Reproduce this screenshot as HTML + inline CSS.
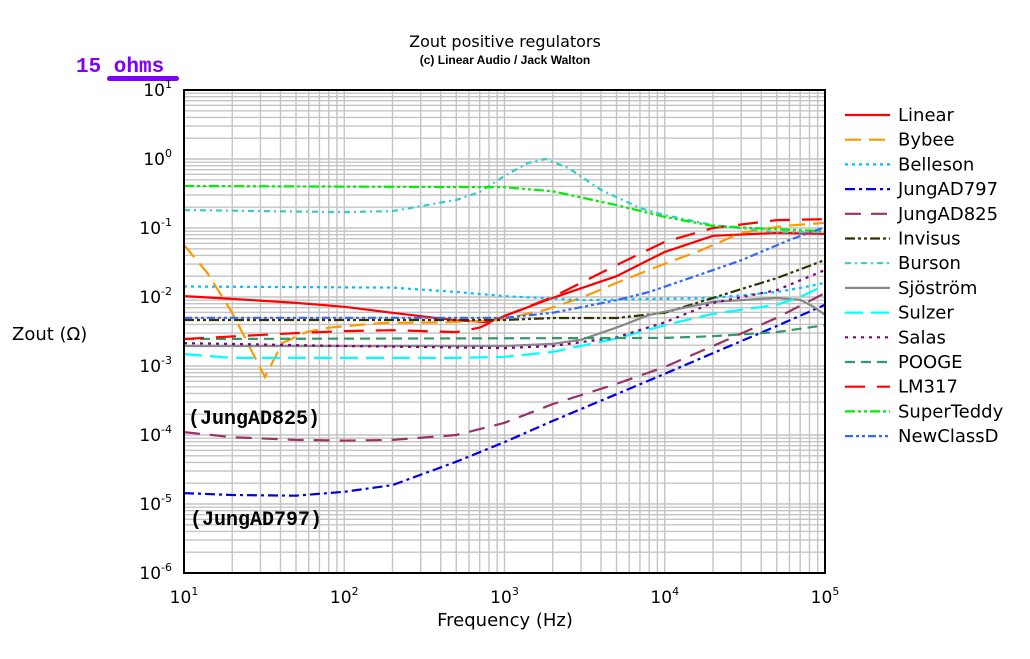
<!DOCTYPE html>
<html><head><meta charset="utf-8">
<style>
html,body{margin:0;padding:0;background:#fff;}
svg{display:block;font-family:"DejaVu Sans","Liberation Sans",sans-serif;}
</style></head>
<body>
<svg id="chart" width="1030" height="659" viewBox="0 0 1030 659" xmlns="http://www.w3.org/2000/svg">
<text x="505" y="47" font-size="16" text-anchor="middle">Zout positive regulators</text>
<text x="505" y="64" font-size="12" font-weight="bold" text-anchor="middle" font-family="Liberation Sans,sans-serif">(c) Linear Audio / Jack Walton</text>
<text x="76" y="72" font-size="21" font-weight="bold" fill="#8000ff" font-family="Liberation Mono,monospace">15 ohms</text>
<rect x="107" y="76" width="72" height="5" rx="2.5" fill="#8000ff"/>
<text x="12" y="340" font-size="18">Zout (Ω)</text>
<text x="505" y="626" font-size="18" text-anchor="middle">Frequency (Hz)</text>
<g id="grid"></g>
<g id="series"></g>
<rect x="184" y="90" width="641" height="483" fill="none" stroke="#000" stroke-width="2"/>
<g id="ticks"></g>
<text x="188" y="424" font-size="20" font-weight="bold" font-family="Liberation Mono,monospace">(JungAD825)</text>
<text x="190" y="525" font-size="20" font-weight="bold" font-family="Liberation Mono,monospace">(JungAD797)</text>
<g id="legend"></g>
</svg>
<script>
const xTickExps = [1,2,3,4,5];
const yTickExps = [1,0,-1,-2,-3,-4,-5,-6];
const seriesNames = ["Linear","Bybee","Belleson","JungAD797","JungAD825","Invisus","Burson","Sjöström","Sulzer","Salas","POOGE","LM317","SuperTeddy","NewClassD"];
const fLinear = [10,20,50,100,200,500,800,1000,2000,5000,1e4,2e4,5e4,1e5];
const zLinear = [0.0103,0.0094,0.0082,0.0072,0.0059,0.0046,0.0043,0.0053,0.0097,0.020,0.045,0.077,0.085,0.082];
const fBybee = [10,14,20,32,41,58,81,170,430,900,1800,3100,5000,9500,17000,30000,55000,100000];
const zBybee = [0.0567,0.0223,0.0059,0.00069,0.00215,0.0031,0.0036,0.0042,0.0043,0.0046,0.0065,0.01,0.016,0.029,0.048,0.085,0.107,0.119];
const fBelleson = [10,200,500,1000,3000,2e4,5e4,7e4,1e5];
const zBelleson = [0.0142,0.0137,0.0118,0.0103,0.009,0.0097,0.0118,0.0135,0.016];
const fJung797 = [10,20,50,100,200,500,1000,2000,5000,1e4,2e4,5e4,1e5];
const zJung797 = [1.44e-5,1.35e-5,1.32e-5,1.5e-5,1.88e-5,4.1e-5,7.9e-5,1.6e-4,3.9e-4,7.7e-4,1.54e-3,3.8e-3,7.7e-3];
const fJung825 = [10,20,50,100,200,500,1000,2000,5000,1e4,2e4,5e4,1e5];
const zJung825 = [1.1e-4,9.3e-5,8.5e-5,8.3e-5,8.5e-5,1e-4,1.5e-4,2.8e-4,5.5e-4,9.7e-4,1.95e-3,5e-3,1.14e-2];
const fInvisus = [10,1000,2000,5000,1e4,2e4,5e4,1e5];
const zInvisus = [0.00464,0.00464,0.00497,0.00497,0.0059,0.0097,0.0188,0.0344];
const fBurson = [10,100,200,500,700,1000,1400,1800,2500,4000,7000,1e4,2e4,5e4,1e5];
const zBurson = [0.182,0.17,0.176,0.255,0.333,0.567,0.875,1.0,0.74,0.356,0.195,0.154,0.11,0.087,0.087];
const fSjostrom = [10,1000,2000,3000,5000,8000,2e4,5e4,7e4,85000,1e5];
const zSjostrom = [1.95e-3,1.95e-3,2.1e-3,2.4e-3,3.6e-3,5.5e-3,8.5e-3,9.7e-3,9.1e-3,7.2e-3,5.5e-3];
const fSulzer = [10,20,100,500,1000,2000,5000,1e4,2e4,5e4,7e4,1e5];
const zSulzer = [1.49e-3,1.31e-3,1.31e-3,1.31e-3,1.36e-3,1.6e-3,2.5e-3,3.9e-3,5.7e-3,7.7e-3,1e-2,1.49e-2];
const fSalas = [10,100,1000,2000,5000,1e4,2e4,5e4,1e5];
const zSalas = [2.15e-3,1.95e-3,1.82e-3,1.95e-3,2.6e-3,4.3e-3,8.2e-3,1.26e-2,2.46e-2];
const fPooge = [10,1e4,2e4,5e4,1e5];
const zPooge = [2.46e-3,2.55e-3,2.7e-3,3.1e-3,3.9e-3];
const fLM317 = [10,50,100,200,500,700,1000,2000,5000,1e4,2e4,5e4,1e5];
const zLM317 = [0.00246,0.003,0.0032,0.0033,0.0031,0.0036,0.0053,0.01,0.029,0.063,0.1,0.13,0.134];
const fSuperTeddy = [10,1000,2000,5000,1e4,2e4,5e4,1e5];
const zSuperTeddy = [0.406,0.39,0.34,0.215,0.145,0.107,0.096,0.09];
const fNewClassD = [10,1000,2000,5000,8000,15000,30000,60000,1e5];
const zNewClassD = [0.005,0.005,0.0059,0.009,0.0118,0.0195,0.034,0.067,0.103];

const NS="http://www.w3.org/2000/svg";
const X0=184,X1=825,Y0=90,Y1=573;
function xs(f){return X0+(Math.log10(f)-1)/4*(X1-X0);}
function ys(v){return Y0+(1-Math.log10(v))/7*(Y1-Y0);}
function mk(tag,attrs,parent){const e=document.createElementNS(NS,tag);for(const k in attrs)e.setAttribute(k,attrs[k]);parent.appendChild(e);return e;}

const grid=document.getElementById('grid');
for(let d=1;d<5;d++)for(let m=1;m<10;m++){const x=xs(m*Math.pow(10,d));
  const l=mk('line',{x1:x,x2:x,y1:Y0,y2:Y1,stroke:'#c4c4c4','stroke-width':1.4},grid);
  
  }
for(let d=-6;d<1;d++)for(let m=1;m<10;m++){const y=ys(m*Math.pow(10,d));
  const l=mk('line',{x1:X0,x2:X1,y1:y,y2:y,stroke:'#c4c4c4','stroke-width':1.4},grid);
  
  }

const ticks=document.getElementById('ticks');
xTickExps.forEach(e=>{const t=mk('text',{x:xs(Math.pow(10,e)),y:603,'font-size':17,'text-anchor':'middle'},ticks);
  
  
  t.textContent='10';const s=mk('tspan',{dy:-8,'font-size':11},t);s.textContent=e;});
yTickExps.forEach(e=>{const t=mk('text',{x:172,y:ys(Math.pow(10,e))+6,'font-size':17,'text-anchor':'end'},ticks);
  
  
  t.textContent='10';const s=mk('tspan',{dy:-8,'font-size':11},t);s.textContent=e;});

const styles=[
 ['#ff0000',''],['#ff9900','16,8'],['#00bfff','3,4'],['#0000ee','10,4,3,4'],['#993366','16,10'],
 ['#333300','10,3,3,3,3,3'],['#33cccc','6,4,2,4'],['#888888',''],['#00ffff','18,8'],['#800080','3,5'],
 ['#339966','10,6'],['#ff0000','20,12'],['#00ee00','10,3,3,3,3,3'],['#3366ff','8,3,3,3,3,3']];
const F=[fLinear,fBybee,fBelleson,fJung797,fJung825,fInvisus,fBurson,fSjostrom,fSulzer,fSalas,fPooge,fLM317,fSuperTeddy,fNewClassD];
const Z=[zLinear,zBybee,zBelleson,zJung797,zJung825,zInvisus,zBurson,zSjostrom,zSulzer,zSalas,zPooge,zLM317,zSuperTeddy,zNewClassD];
const sg=document.getElementById('series');
const lg=document.getElementById('legend');
seriesNames.forEach((n,i)=>{
  const pts=F[i].map((f,j)=>xs(f).toFixed(1)+','+ys(Z[i][j]).toFixed(1)).join(' ');
  const p=mk('polyline',{points:pts,fill:'none',stroke:styles[i][0],'stroke-width':2.2,'stroke-dasharray':styles[i][1]},sg);
  
  
  const y=115+i*24.7;
  const g=mk('g',{},lg);
  
  
  mk('line',{x1:845,x2:890,y1:y,y2:y,stroke:styles[i][0],'stroke-width':2.2,'stroke-dasharray':styles[i][1]},g);
  const t=mk('text',{x:898,y:y+6,'font-size':18},g);t.textContent=n;
});
</script>
</body></html>
